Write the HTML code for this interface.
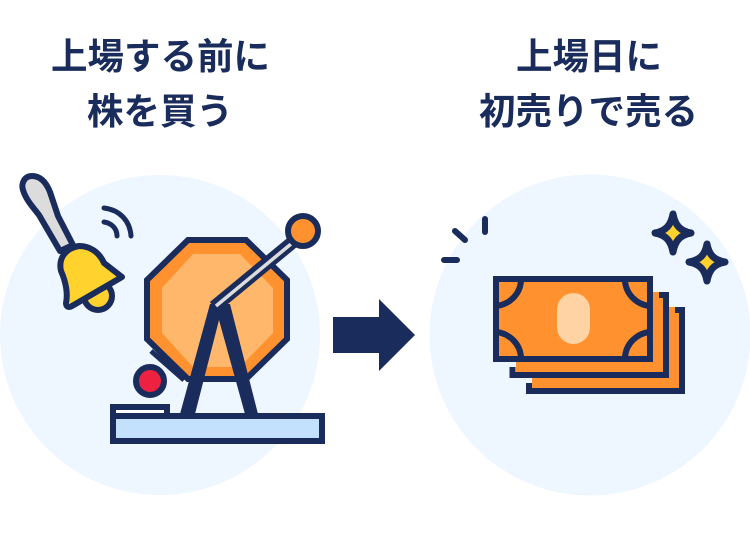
<!DOCTYPE html>
<html><head><meta charset="utf-8"><style>
html,body{margin:0;padding:0;background:#fff;width:750px;height:539px;overflow:hidden}
svg{display:block;filter:blur(0.35px)}
text{font-family:"Liberation Sans","Noto Sans CJK JP",sans-serif;font-weight:700;font-size:36.5px;fill:#1a2c5b;text-anchor:middle}
</style></head><body>
<svg width="750" height="539" viewBox="0 0 750 539" xmlns="http://www.w3.org/2000/svg">
<text x="160.500" y="69">上場する前に</text>
<text x="160" y="124">株を買う</text>
<text x="589" y="69">上場日に</text>
<text x="588.500" y="124">初売りで売る</text>
<circle cx="160" cy="335" r="160" fill="#eef6ff"/>
<circle cx="590" cy="335" r="160.500" fill="#eef6ff"/>
<path d="M333 317H379V299L415 335L379 371V353H333Z" fill="#1a2c5b"/>
<!-- bell -->
<circle cx="98" cy="296" r="14" fill="#ffd22e" stroke="#1a2c5b" stroke-width="6"/>
<path d="M73 245L58 216L50 192C46 182 40 176 32 176C24 176 21 184 23 190C26 200 33 207 39 215L60 251Z" fill="#dcdcdc" stroke="#1a2c5b" stroke-width="6" stroke-linejoin="round"/>
<path d="M72 306L122 277L104 263C99 252 90 246 79 246C66 248 58 258 61 271C66 282 68 294 66 303C66 307 69 308 72 306Z" fill="#ffd22e" stroke="#1a2c5b" stroke-width="6" stroke-linejoin="round"/>
<path d="M104 208C120 210 130 221 131 236M104 222C111 223 117 228 117 236" fill="none" stroke="#1a2c5b" stroke-width="5" stroke-linecap="round"/>
<!-- drum -->
<path d="M188 240H246L287 280V339L246 379H188L147 339V280Z" fill="#ff922e" stroke="#1a2c5b" stroke-width="6"/>
<path d="M193 254H240L273 288V333L240 367H193L162 333V288Z" fill="#ffb76b"/>
<path d="M151 351L184 380" stroke="#1a2c5b" stroke-width="5" fill="none"/>
<!-- A frame -->
<path d="M210 304H230L258 414H245L219 320L195 414H180Z" fill="#1a2c5b"/>
<!-- lever -->
<path d="M214 307L294 241" stroke="#1a2c5b" stroke-width="13" fill="none"/>
<path d="M216 306L291 244" stroke="#dcdcdc" stroke-width="3.500" fill="none"/>
<circle cx="303" cy="231" r="15" fill="#ff922e" stroke="#1a2c5b" stroke-width="6"/>
<!-- ball -->
<circle cx="150" cy="381" r="14" fill="#ee2140" stroke="#1a2c5b" stroke-width="6"/>
<!-- base -->
<rect x="113" y="407" width="54" height="12" fill="#fff" stroke="#1a2c5b" stroke-width="6"/>
<rect x="113" y="416" width="209" height="25" fill="#c3e0fd" stroke="#1a2c5b" stroke-width="6"/>
<!-- sparks -->
<path d="M485 219V232M455 231L465 240M444 260H457" stroke="#1a2c5b" stroke-width="6" stroke-linecap="round" fill="none"/>
<path d="M673 214C675 225 680 231 691 233C680 235 675 241 673 252C671 241 666 235 655 233C666 231 671 225 673 214Z" fill="#ffd22e" stroke="#1a2c5b" stroke-width="7" stroke-linejoin="round"/>
<path d="M707 244C709 255 714 260 725 262C714 264 709 270 707 281C705 270 700 264 689 262C700 260 705 255 707 244Z" fill="#ffd22e" stroke="#1a2c5b" stroke-width="7" stroke-linejoin="round"/>
<!-- money -->
<path d="M669 307H679V388H532V375H669Z" fill="#ff922e"/>
<path d="M675 310H682V391H529V383" fill="none" stroke="#1a2c5b" stroke-width="6"/>
<path d="M653 292H663V372H516V359H653Z" fill="#ff922e"/>
<path d="M659 295H666V375H512.500V367" fill="none" stroke="#1a2c5b" stroke-width="6"/>
<rect x="496" y="279" width="154" height="80" fill="#ff922e" stroke="#1a2c5b" stroke-width="6"/>
<rect x="557" y="293" width="33" height="51" rx="16.500" fill="#ffd3a3"/>
<path d="M521 281C520 294 510 304 497 306M625 281C626 294 636 304 649 306M521 357C520 344 510 334 497 332M625 357C626 344 636 334 649 332" fill="none" stroke="#1a2c5b" stroke-width="6"/>
</svg>
</body></html>
